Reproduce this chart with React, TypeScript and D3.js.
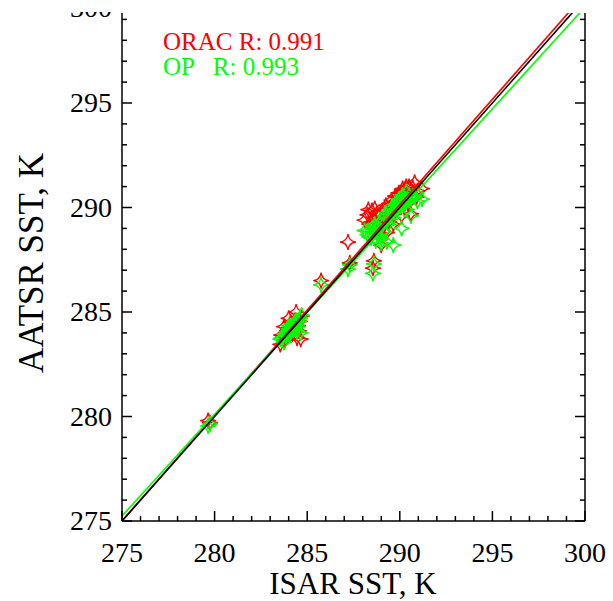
import React from "react";
import * as d3 from "d3";

// In-situ (ISAR) SST against satellite retrievals, Kelvin
const isarSST = [
  279.65, 279.75,
  283.55, 283.7, 283.8, 283.9, 284.0, 284.05, 284.15, 284.25, 284.3, 284.4, 284.5, 284.6, 284.45, 283.75,
  283.6, 283.85, 284.1, 284.2, 284.35, 284.55, 284.7, 284.0, 284.65,
  285.75,
  287.2, 287.3, 288.6, 288.55,
  288.1, 288.25, 288.35, 288.5, 288.6, 288.7, 288.8, 288.9, 289.0, 289.1, 289.2, 289.35, 289.5, 289.6,
  289.7, 289.8, 289.9, 290.0, 290.1, 290.2, 290.3, 290.4, 290.5, 290.6, 290.8, 290.95, 289.0, 288.8,
  288.3, 288.45, 288.65, 288.75, 288.9, 289.05, 289.15, 289.25, 289.4, 289.55, 289.65, 289.75,
  289.85, 289.95, 290.05, 290.15, 290.25, 290.35, 290.45, 290.7, 290.9, 289.3, 289.65, 290.1, 291.2,
];
const oracSST = [
  279.8, 279.7,
  283.45, 283.85, 283.65, 284.1, 283.9, 284.25, 284.05, 284.4, 284.2, 285.0, 284.35, 284.55, 283.75, 284.3,
  283.9, 284.0, 284.5, 283.95, 284.6, 284.1, 284.8, 284.7, 283.7,
  286.5,
  288.35, 287.35, 287.45, 287.1,
  289.4, 289.65, 289.2, 289.85, 289.5, 289.3, 289.1, 289.6, 288.75, 289.4, 289.9, 289.65, 290.0, 290.2,
  289.7, 290.3, 290.5, 290.1, 290.7, 290.4, 290.9, 290.6, 291.0, 289.7, 291.2, 290.8, 288.2, 288.7,
  289.9, 289.3, 289.95, 289.7, 289.0, 289.85, 289.1, 290.1, 289.3, 290.35, 289.9, 290.55,
  290.0, 290.7, 290.3, 290.9, 290.6, 291.0, 290.2, 290.95, 290.5, 288.8, 289.2, 289.6, 290.9,
];
const opSST = [
  279.55, 279.65,
  283.7, 283.8, 283.95, 284.05, 284.2, 283.9, 284.3, 284.15, 284.45, 284.6, 284.3, 284.7, 284.05, 283.55,
  283.75, 283.85, 284.1, 284.25, 284.4, 284.55, 284.85, 284.35, 284.0,
  286.3,
  287.05, 287.25, 287.3, 286.85,
  288.9, 288.7, 288.6, 289.0, 288.85, 288.4, 289.1, 289.3, 288.5, 289.2, 289.6, 289.45, 289.7, 289.8,
  289.9, 290.1, 289.95, 290.3, 290.2, 290.5, 290.4, 289.9, 290.6, 289.6, 290.5, 290.3, 288.3, 288.7,
  288.9, 288.55, 289.2, 288.95, 288.65, 289.4, 288.85, 289.75, 289.2, 290.0, 289.5, 290.15,
  289.85, 290.4, 290.05, 290.6, 290.1, 290.75, 290.35, 290.55, 290.7, 288.35, 288.2, 289.0, 290.4,
];

// Linear fits (y = intercept + slope * x) for ORAC and OP
const seriesNames = ["ORAC", "OP"];
const seriesColors = ["#ff0000", "#00ff00"];
const correlations = ["0.991", "0.993"];
const fitSlopes = [1.0087, 0.974];
const fitIntercepts = [-2.39, 7.39];

const axisTicks = [275, 280, 285, 290, 295, 300];

const W = 613;
const H = 601;

const x = d3.scaleLinear().domain([275, 300]).range([122, 585]);
const y = d3.scaleLinear().domain([275, 300]).range([521, -1.5]);
const plotTop = 13;

// Four-pointed concave star marker
function starPath(cx: number, cy: number, r: number) {
  const k = r * 0.1;
  return (
    `M${cx},${cy - r}Q${cx + k},${cy - k} ${cx + r},${cy}` +
    `Q${cx + k},${cy + k} ${cx},${cy + r}` +
    `Q${cx - k},${cy + k} ${cx - r},${cy}` +
    `Q${cx - k},${cy - k} ${cx},${cy - r}Z`
  );
}

export default function App() {
  const minorTicks = d3.range(275, 301, 1).filter((v) => v % 5 !== 0);
  const series = [oracSST, opSST];
  const font = "'Liberation Serif', 'Times New Roman', serif";
  const [x0, x1] = x.range();
  const yBottom = y(275);

  return (
    <svg
      width={W}
      height={H}
      style={{ position: "absolute", left: 0, top: 0, background: "#fff" }}
      fontFamily={font}
    >
      <defs>
        <clipPath id="plot-clip">
          <rect x={x0} y={plotTop} width={x1 - x0} height={yBottom - plotTop + 1} />
        </clipPath>
      </defs>
      <rect width={W} height={H} fill="#fff" />

      <g clipPath="url(#plot-clip)">
        {series.map((vals, si) => (
          <g key={seriesNames[si]} fill="none" stroke={seriesColors[si]} strokeWidth={1.3}>
            {vals.map((v, i) => (
              <path key={i} d={starPath(x(isarSST[i]), y(v), 8)} />
            ))}
          </g>
        ))}
        {fitSlopes.map((b, si) => (
          <line
            key={si}
            x1={x(275)}
            y1={y(fitIntercepts[si] + b * 275)}
            x2={x(300)}
            y2={y(fitIntercepts[si] + b * 300)}
            stroke={seriesColors[si]}
            strokeWidth={1.6}
          />
        ))}
        <line x1={x(275)} y1={y(275)} x2={x(300)} y2={y(300)} stroke="#000" strokeWidth={1.6} />
      </g>

      {/* axes */}
      <g stroke="#000" strokeWidth={1.5} fill="none">
        <line x1={x0} y1={plotTop} x2={x0} y2={yBottom} />
        <line x1={x1} y1={plotTop} x2={x1} y2={yBottom} />
        <line x1={x0} y1={yBottom} x2={x1} y2={yBottom} />
        {axisTicks.map((t) => (
          <g key={"M" + t}>
            <line x1={x(t)} y1={yBottom} x2={x(t)} y2={yBottom - 10} />
            {y(t) >= plotTop && (
              <>
                <line x1={x0} y1={y(t)} x2={x0 + 10} y2={y(t)} />
                <line x1={x1} y1={y(t)} x2={x1 - 10} y2={y(t)} />
              </>
            )}
          </g>
        ))}
        {minorTicks.map((t) => (
          <g key={"m" + t}>
            <line x1={x(t)} y1={yBottom} x2={x(t)} y2={yBottom - 5} />
            {y(t) >= plotTop && (
              <>
                <line x1={x0} y1={y(t)} x2={x0 + 5} y2={y(t)} />
                <line x1={x1} y1={y(t)} x2={x1 - 5} y2={y(t)} />
              </>
            )}
          </g>
        ))}
      </g>

      {/* tick labels */}
      <g fontSize={28} fill="#000">
        {axisTicks.map((t) => (
          <text key={"x" + t} x={x(t)} y={562} textAnchor="middle">
            {t}
          </text>
        ))}
        {axisTicks.map((t) => (
          <text key={"y" + t} x={112} y={t === 300 ? 17 : y(t) + 9} textAnchor="end">
            {t}
          </text>
        ))}
      </g>
      {/* top margin strip */}
      <rect x={0} y={0} width={W} height={12} fill="#fff" />

      {/* axis titles */}
      <text x={353} y={594} fontSize={31} textAnchor="middle" fill="#000">
        ISAR SST, K
      </text>
      <text
        transform={`translate(43,263) rotate(-90)`}
        fontSize={35}
        textAnchor="middle"
        fill="#000"
      >
        AATSR SST, K
      </text>

      {/* legend */}
      {seriesNames.map((name, i) => (
        <text
          key={name}
          x={163}
          y={50 + i * 24.5}
          fontSize={25}
          fill={seriesColors[i]}
          style={{ whiteSpace: "pre" }}
        >
          {(name === "OP" ? "OP   " : name + " ") + "R: " + correlations[i]}
        </text>
      ))}
    </svg>
  );
}
